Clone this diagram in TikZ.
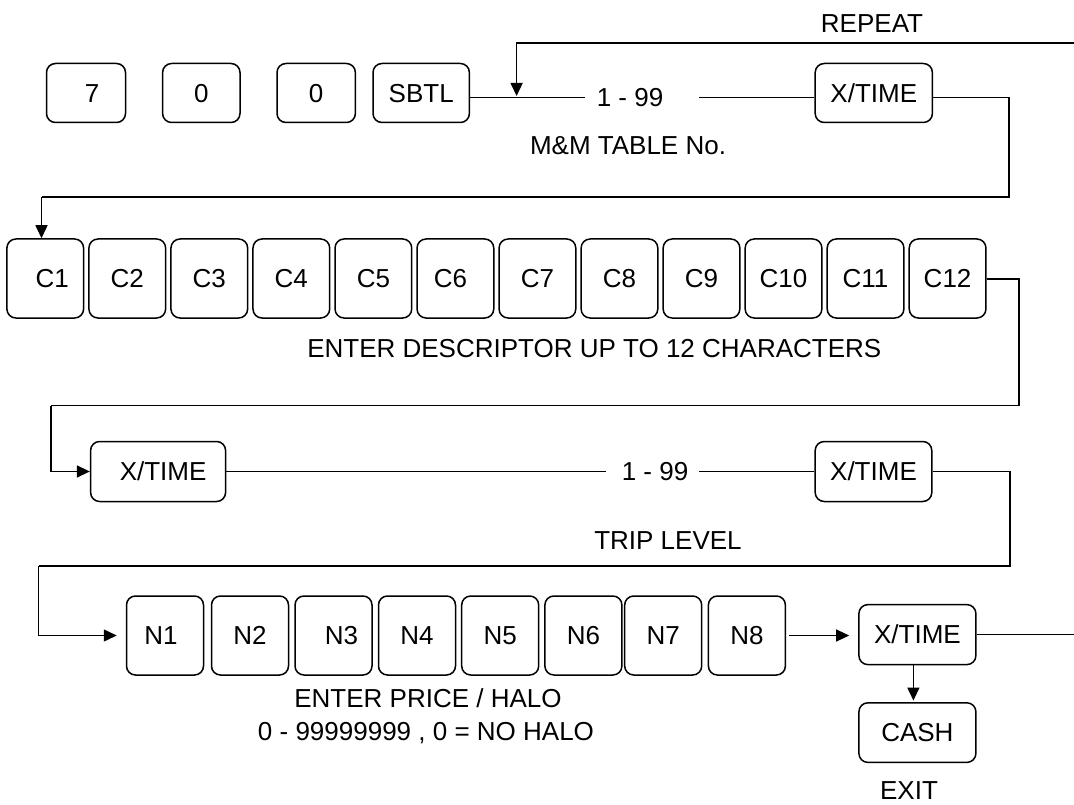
\documentclass[tikz,border=0pt]{standalone}
\usepackage{fontspec}
\setmainfont{Liberation Sans}
\usetikzlibrary{arrows.meta}
\begin{document}
\begin{tikzpicture}[x=1pt,y=-1pt,
  key/.style={draw, line width=1.5pt, rounded corners=9pt, inner sep=0pt,
    font=\fontsize{26}{31}\selectfont, text height=18.6pt, text depth=0pt,
    minimum height=59pt},
  ckey/.style={key, minimum width=76.7pt, minimum height=79pt},
  nkey/.style={key, minimum width=77pt, minimum height=79pt},
  wire/.style={line width=1.5pt},
  arr/.style={wire, -{Triangle[length=13pt,width=12pt]}},
  lbl/.style={font=\fontsize{26}{31}\selectfont, inner sep=0pt, anchor=base}]
\useasboundingbox (0,0) rectangle (1074,805);

% ---- row 1
\node[key, minimum width=79pt]   (k7)   at (86,93)    {\hspace*{12pt}7};
\node[key, minimum width=77.4pt] (k0a)  at (201.3,93) {0};
\node[key, minimum width=78.4pt] (k0b)  at (316.2,93) {0};
\node[key, minimum width=96.4pt] (sbtl) at (421.2,93) {SBTL};
\node[key, minimum width=117.2pt](xt1)  at (873.8,93) {X/TIME};
\node[lbl] (r1) at (630,106.5) {1 - 99};
\node[lbl] (rep) at (872,33) {REPEAT};
\node[lbl] (mm) at (628,154.5) {M\&M TABLE No.};

\draw[wire] ([yshift=-4.5pt]sbtl.east) -- ([xshift=-12pt,yshift=-4.5pt]r1.west |- sbtl.east);
\draw[wire] ([xshift=36pt,yshift=-4.5pt]r1.east |- xt1.west) -- ([yshift=-4.5pt]xt1.west);

\coordinate (repR) at (1074,43);
\coordinate (repC) at (516.6,43);
\coordinate (repE) at (516.6,96);
\draw[arr] (repR) -- (repC) -- (repE);

\coordinate (a1) at (1009,97.5);
\coordinate (a2) at (1009,197);
\coordinate (a3) at (41.5,197);

% ---- row 2
\foreach \i/\t in {1/\hspace*{14pt}C1,2/C2,3/C3,4/C4,5/C5,6/\hspace*{-10pt}C6,7/C7,8/C8,9/C9,10/C10,11/C11,12/C12}{
  \node[ckey] (c\i) at ({45.25+82.03*(\i-1)},278.5) {\t};
}
\draw[wire] ([yshift=-4.5pt]xt1.east) -- (a1) -- (a2) -- (a3);
\draw[arr] (a3) -- (a3 |- c1.north);
\node[lbl] (desc) at (594.3,357.3) {ENTER DESCRIPTOR UP TO 12 CHARACTERS};

% ---- row 3
\node[key, minimum width=135pt, minimum height=60pt]   (xt2) at (158.1,471.5) {\hspace*{10pt}X/TIME};
\node[key, minimum width=116.6pt, minimum height=60pt] (xt3) at (873.5,471.5) {X/TIME};
\node[lbl] (r2) at (655,480.8) {1 - 99};
\node[lbl] (trip) at (668,549.8) {TRIP LEVEL};

\coordinate (b1) at (1019.2,279);
\coordinate (b2) at (1019.2,405.5);
\coordinate (b3) at (51,405.5);
\draw[wire] (c12.east |- b1) -- (b1) -- (b2) -- (b3);
\draw[arr] (b3) |- (xt2.west);

\draw[wire] (xt2.east) -- ([xshift=-16pt]r2.west |- xt2.east);
\draw[wire] ([xshift=11pt]r2.east |- xt3.west) -- (xt3.west);

% ---- row 4
\foreach \i/\cx/\t in {1/165/\hspace*{-8pt}N1,2/250/N2,3/333.5/\hspace*{16pt}N3,4/417/N4,5/500.2/N5,6/583.4/N6,7/663.2/N7,8/746.9/N8}{
  \node[nkey] (n\i) at (\cx,635.5) {\t};
}
\node[key, minimum width=117pt, minimum height=60pt]  (xt4)  at (917.4,634.6) {X/TIME};
\node[key, minimum width=117pt, minimum height=59.6pt](cash) at (917.4,732.6) {CASH};
\node[lbl] (exit) at (909,799) {EXIT};
\node[lbl] (pr1) at (428,707.8) {ENTER PRICE / HALO};
\node[lbl] (pr2) at (426,740.5) {0 - 99999999 , 0 = NO HALO};

\coordinate (d1) at (1009.8,471.5);
\coordinate (d2) at (1009.8,566);
\coordinate (d3) at (38.6,566);
\draw[wire] (xt3.east) -- (d1) -- (d2) -- (d3);
\draw[arr, shorten >=9pt] (d3) |- (n1.west);

\draw[arr, shorten <=3pt, shorten >=9pt] (n8.east) -- (xt4.west |- n8.east);
\coordinate (xr) at (1074,634.6);
\draw[wire] (xt4.east) -- (xr);
\draw[arr, shorten >=1.5pt] ([xshift=-4pt]xt4.south) -- ([xshift=-4pt]cash.north);
\end{tikzpicture}
\end{document}
